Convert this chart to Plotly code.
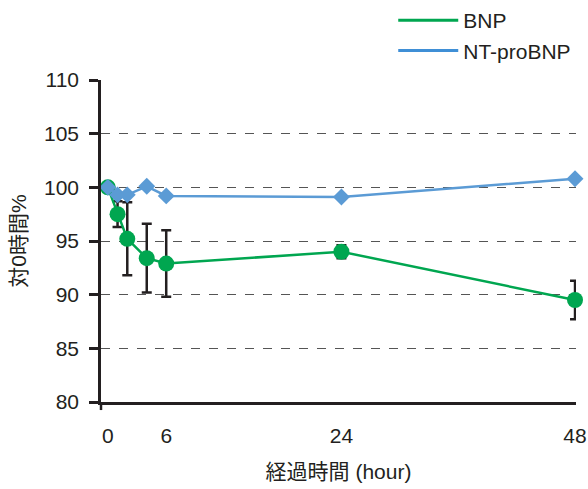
import plotly.graph_objects as go

# Elapsed time (hours) and % of the 0-hour value
hours = [0, 1, 2, 4, 6, 24, 48]
bnp = [100.0, 97.5, 95.2, 93.4, 92.9, 94.0, 89.5]
bnp_err = [0.0, 1.2, 3.4, 3.2, 3.1, 0.6, 1.8]
ntprobnp = [100.0, 99.3, 99.3, 100.1, 99.2, 99.1, 100.8]

x_ticks = [0, 6, 24, 48]
y_ticks = [80, 85, 90, 95, 100, 105, 110]

GREEN = "#00a650"
BLUE = "#5b9bd5"
BLUE_LEGEND = "#3f8fd6"
INK = "#231f20"
FONT = "Liberation Sans, Arial, Noto Sans CJK JP, sans-serif"

fig = go.Figure()

fig.add_trace(go.Scatter(
    x=hours, y=bnp, mode="lines+markers", name="BNP", showlegend=False,
    line=dict(color=GREEN, width=2.5),
    marker=dict(color=GREEN, size=16, symbol="circle"),
    error_y=dict(type="data", array=bnp_err, visible=True,
                 color=INK, thickness=2.5, width=5),
    cliponaxis=False,
))
fig.add_trace(go.Scatter(
    x=hours, y=ntprobnp, mode="lines+markers", name="NT-proBNP", showlegend=False,
    line=dict(color=BLUE, width=2.5),
    marker=dict(color=BLUE, size=13, symbol="diamond"),
    cliponaxis=False,
))

# legend entries drawn as plain lines
fig.add_trace(go.Scatter(x=[None], y=[None], mode="lines", name="BNP",
                         line=dict(color=GREEN, width=3)))
fig.add_trace(go.Scatter(x=[None], y=[None], mode="lines", name="NT-proBNP",
                         line=dict(color=BLUE_LEGEND, width=3)))

# y axis continues slightly below the x axis
fig.add_shape(type="line", xref="paper", yref="paper", x0=0, x1=0, y0=-0.025, y1=0,
              line=dict(color=INK, width=2.5))

fig.update_layout(
    width=588, height=489,
    margin=dict(l=101, r=12, t=80, b=87, autoexpand=False),
    paper_bgcolor="white", plot_bgcolor="white",
    font=dict(family=FONT, size=21, color=INK),
    legend=dict(x=0.98, xref="container", xanchor="right",
                y=1.005, yref="container", yanchor="top",
                font=dict(size=21, color=INK), itemwidth=60,
                bgcolor="rgba(0,0,0,0)", tracegroupgap=0),
    xaxis=dict(
        range=[-0.7, 48.1], tickvals=x_ticks, ticktext=[str(v) for v in x_ticks],
        showgrid=False, zeroline=False, showline=True, linecolor=INK, linewidth=2.5,
        ticks="", ticklabelstandoff=13, ticklabeloverflow="allow",
        tickfont=dict(size=21),
        title=dict(text="経過時間 (hour)", standoff=19, font=dict(size=21)),
    ),
    yaxis=dict(
        range=[80, 110], tickvals=y_ticks, ticktext=[str(v) for v in y_ticks],
        showgrid=True, gridcolor="#555555", griddash="dash", gridwidth=1,
        zeroline=False, showline=True, linecolor=INK, linewidth=2.5,
        ticks="outside", ticklen=9, tickwidth=2.5, tickcolor=INK,
        ticklabelstandoff=6, tickfont=dict(size=21),
        title=dict(text="対0時間%", standoff=12, font=dict(size=21)),
    ),
)

fig.write_html("out.html")
